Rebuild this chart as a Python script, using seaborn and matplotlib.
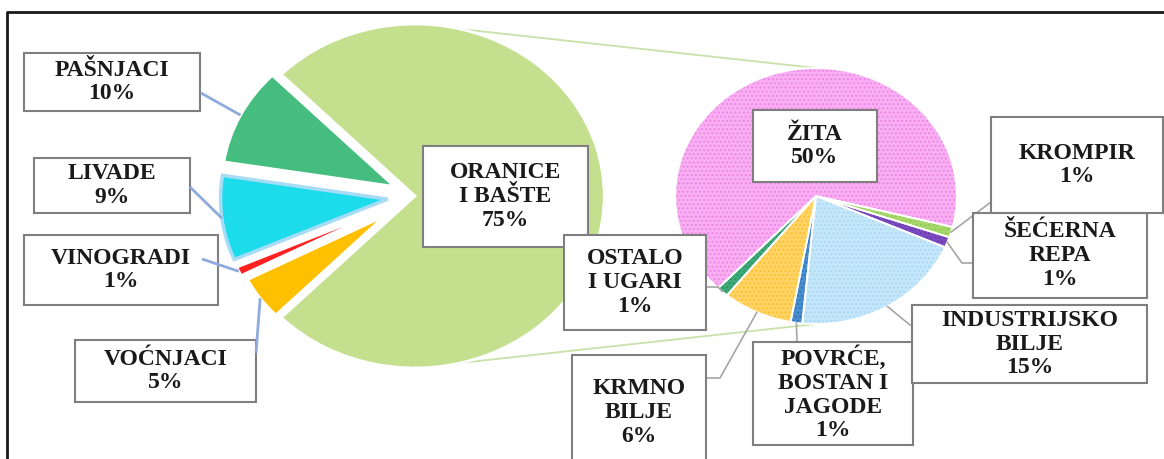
import matplotlib
matplotlib.use("Agg")
import matplotlib.pyplot as plt
from matplotlib.patches import Rectangle
import numpy as np
import seaborn as sns

# land use (main pie)
main_names = ["ORANICE\nI BAŠTE", "PAŠNJACI", "LIVADE", "VINOGRADI", "VOĆNJACI"]
main_values = [75, 10, 9, 1, 5]
main_colors = ["#C4E08E", "#44BD7E", "#1CDCEC", "#FF2020", "#FFC000"]

# breakdown of ORANICE I BAŠTE (second pie)
sub_names = ["ŽITA", "OSTALO\nI UGARI", "KRMNO\nBILJE", "POVRĆE,\nBOSTAN I\nJAGODE",
             "INDUSTRIJSKO\nBILJE", "ŠEĆERNA\nREPA", "KROMPIR"]
sub_values = [50, 1, 6, 1, 15, 1, 1]
sub_colors = ["#F9B0F2", "#3DAA78", "#FFD466", "#4A90D0", "#C6E7FA", "#7A4CC0", "#A8D86C"]
sub_dots = ["#F086E8", "#2E9466", "#FFBF2E", "#2F74B8", "#A8D8F6", "#6A3CB0", "#94CC56"]

W, H = 1164, 459
SX = 1.1  # the source picture is stretched a bit horizontally


def P(x, y):
    # pixel position of the reference -> data coords
    return (x / SX, H - y)


sns.set_theme(style="white")
plt.rcParams["font.family"] = ["Liberation Serif", "DejaVu Serif"]

fig = plt.figure(figsize=(W / 100, H / 100), dpi=100)
ax = fig.add_axes([0, 0, 1, 1])

# main pie (explode is in data units)
c_main, r_main = P(415, 196), 172
explode = [0, 21, 25, 29, 34]
main_wedges, _ = ax.pie(main_values, colors=main_colors, startangle=225,
                        explode=explode, center=c_main, radius=r_main,
                        wedgeprops=dict(edgecolor="white", linewidth=2), frame=True)
# pulled-out slices are drawn a little smaller
for w, rr in zip(main_wedges[1:], (157, 152, 148, 140)):
    w.set_radius(rr)
main_wedges[2].set_edgecolor("#A6DCF5")
main_wedges[2].set_linewidth(2.5)

# second pie, dotted fill then white outlines on top
c_sub, r_sub = P(816, 196), 128
sub_wedges, _ = ax.pie(sub_values, colors=sub_colors, startangle=-14,
                       center=c_sub, radius=r_sub, frame=True)
for w, dc in zip(sub_wedges, sub_dots):
    w.set_edgecolor(dc)
    w.set_linewidth(0)
    w.set_hatch("....")
ax.pie(sub_values, colors=["none"] * len(sub_values), startangle=-14,
       center=c_sub, radius=r_sub, frame=True,
       wedgeprops=dict(edgecolor="white", linewidth=1.3))

ax.set_aspect("auto")
ax.set_xlim(0, W / SX)
ax.set_ylim(0, H)
ax.axis("off")

# lines joining the two pies
for sgn in (1, -1):
    a = np.deg2rad(76 * sgn)
    x0 = c_main[0] + r_main * np.cos(a)
    y0 = c_main[1] + r_main * np.sin(a)
    ax.plot([x0, c_sub[0]], [y0, c_sub[1] + sgn * r_sub], color="#C8E2AA", lw=1.3, zorder=0)


def anchor(w):
    # point on the outer arc, in the middle of the slice
    t = np.deg2rad((w.theta1 + w.theta2) / 2)
    return (w.center[0] + w.r * np.cos(t), w.center[1] + w.r * np.sin(t))


# label boxes (x0, y0, x1, y1 in reference pixels) and leader line ends
main_boxes = [(423, 146, 588, 247), (24, 53, 200, 111), (34, 158, 190, 213),
              (24, 235, 218, 305), (75, 340, 256, 402)]
main_leads = [None, [(201, 93)], [(190, 187)], [(202, 259)], [(256, 353)]]
sub_boxes = [(753, 110, 877, 182), (564, 235, 706, 330), (572, 355, 706, 470),
             (753, 342, 913, 445), (912, 305, 1147, 383), (973, 213, 1147, 298),
             (991, 117, 1163, 213)]
sub_leads = [None, [(718, 287), (706, 287)], [(720, 378), (706, 378)], [(797, 342)],
             [(910, 325), (918, 325)], [(962, 263), (973, 263)], [(991, 202)]]


def draw_label(name, value, box, z):
    x0, y0, x1, y1 = box
    bx, by = P(x0, y1)
    ax.add_patch(Rectangle((bx, by), (x1 - x0) / SX, y1 - y0, facecolor="white",
                           edgecolor="#7F7F7F", lw=1.5, zorder=z))
    cx, cy = P((x0 + x1) / 2, (y0 + y1) / 2)
    ax.text(cx, cy, f"{name}\n{value}%", ha="center", va="center", fontsize=17,
            fontweight="bold", color="#1A1A1A", linespacing=1.17, zorder=z + 0.5)


for i, (w, name, val, box, lead) in enumerate(zip(main_wedges, main_names, main_values,
                                                  main_boxes, main_leads)):
    draw_label(name, val, box, 5 + i)
    if lead:
        pts = [anchor(w)] + [P(*p) for p in lead]
        xs, ys = zip(*pts)
        ax.plot(xs, ys, color="#8FAADC", lw=2, zorder=20, solid_capstyle="butt")

for i, (w, name, val, box, lead) in enumerate(zip(sub_wedges, sub_names, sub_values,
                                                  sub_boxes, sub_leads)):
    draw_label(name, val, box, 5 + i)
    if lead:
        pts = [anchor(w)] + [P(*p) for p in lead]
        xs, ys = zip(*pts)
        ax.plot(xs, ys, color="#A6A6A6", lw=1.2, zorder=4)

# outer frame
fx, fy = zip(P(7, 470), P(7, 12), P(1170, 12))
ax.plot(fx, fy, color="#1A1A1A", lw=2, zorder=30, clip_on=False)

fig.savefig("out.png", dpi=100)
